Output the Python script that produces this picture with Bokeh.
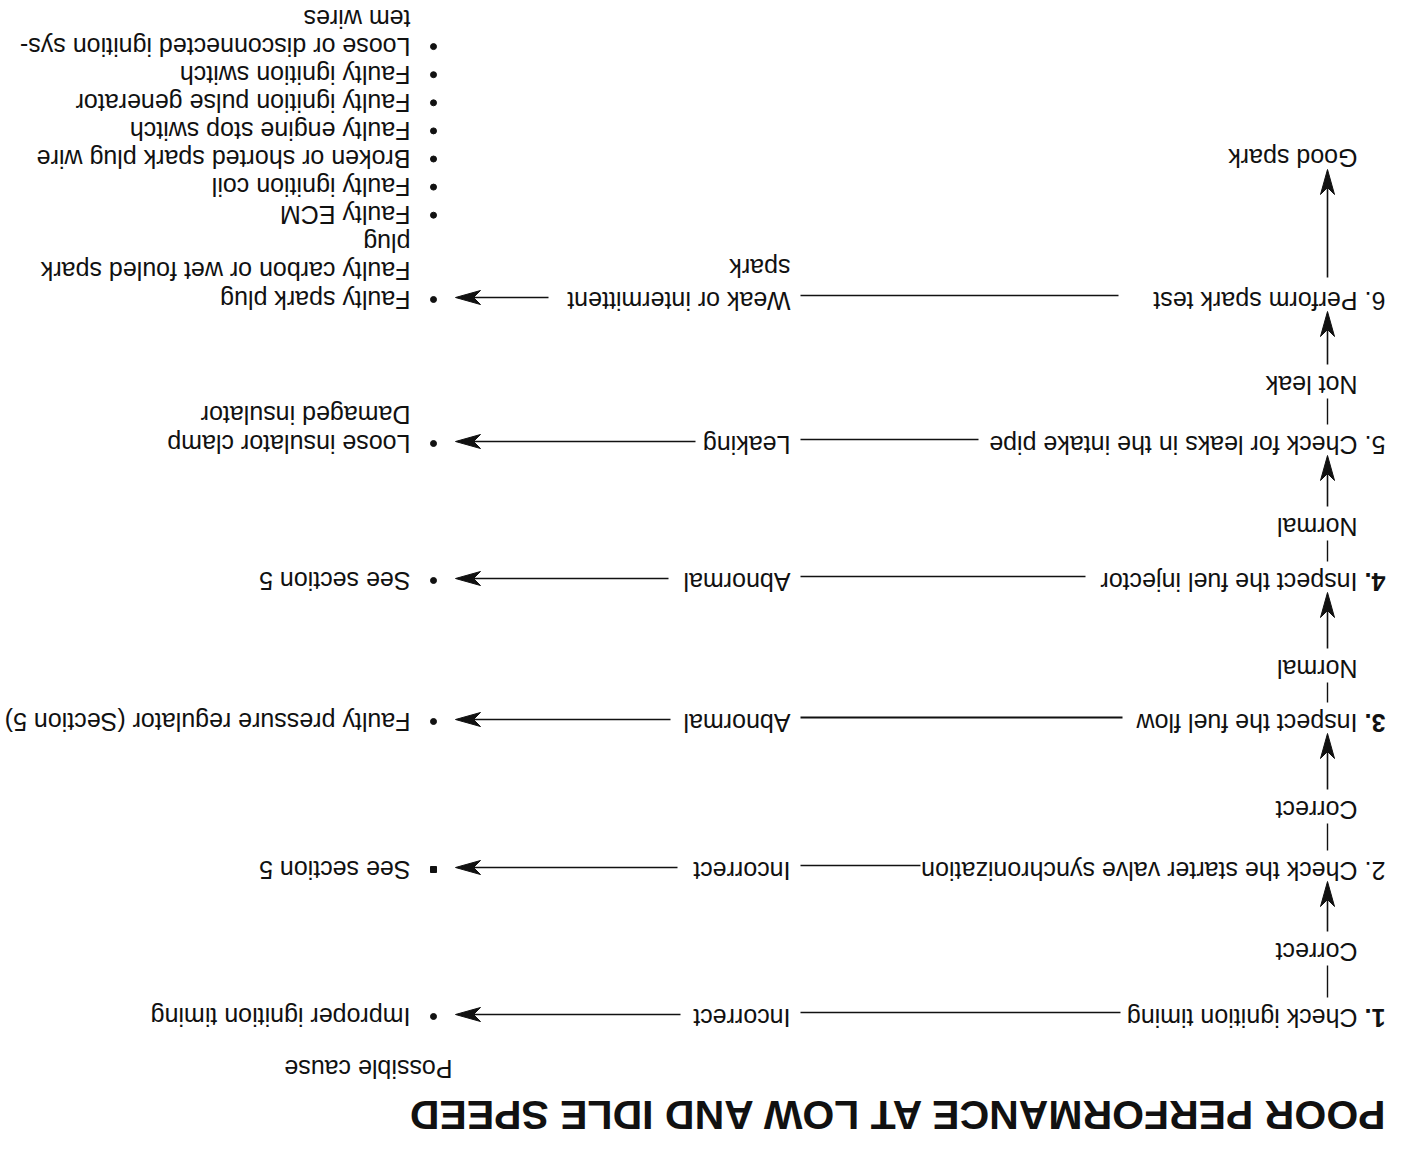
import math
from bokeh.plotting import figure
from bokeh.models import Range1d
from bokeh.core.properties import value
from bokeh.embed import file_html
from bokeh.resources import INLINE

# ---------------- content ----------------
title = "POOR PERFORMANCE AT LOW AND IDLE SPEED"
column_header = "Possible cause"
step_numbers = ["1.", "2.", "3.", "4.", "5.", "6."]
step_number_bold = [True, False, True, True, False, False]
steps = [
    "Check ignition timing",
    "Check the starter valve synchronization",
    "Inspect the fuel flow",
    "Inspect the fuel injector",
    "Check for leaks in the intake pipe",
    "Perform spark test",
]
yes_labels = ["Correct", "Correct", "Normal", "Normal", "Not leak"]
final_label = "Good spark"
results = [
    ["Incorrect"],
    ["Incorrect"],
    ["Abnormal"],
    ["Abnormal"],
    ["Leaking"],
    ["Weak or intermittent", "spark"],
]
causes = [
    ["Improper ignition timing"],
    ["See section 5"],
    ["Faulty pressure regulator (Section 5)"],
    ["See section 5"],
    ["Loose insulator clamp", "Damaged insulator"],
    ["Faulty spark plug", "Faulty carbon or wet fouled spark", "plug",
     "Faulty ECM", "Faulty ignition coil", "Broken or shorted spark plug wire",
     "Faulty engine stop switch", "Faulty ignition pulse generator",
     "Faulty ignition switch", "Loose or disconnected ignition sys-", "tem wires"],
]
cause_bullets = [
    ["circle"],
    ["square"],
    ["circle"],
    ["circle"],
    ["circle", None],
    ["circle", None, None, "circle", "circle", "circle", "circle", "circle",
     "circle", "circle", None],
]

# ---------------- layout (page is shown rotated 180 degrees) ----------------
W, H = 1387, 1138
step_y = [1017, 870, 722, 581, 444, 300]
yes_y = [951, 809, 668, 526, 384]
good_y = 157
step_line_start = [1120, 920, 1122, 1085, 978, 1118]
step_line_width = [1.4, 1.4, 2.2, 1.4, 1.4, 1.4]
arrow_start = [680, 677, 670, 668, 695, 548]
X_NUM, X_STEP, X_VERT = 1385, 1357, 1327
X_RES, X_LINE_END, X_TIP, X_BULLET, X_CAUSE = 790, 800, 455, 433, 410
LINE_GAP = 28.1
HEAD_L, HEAD_HW, HEAD_N = 25, 7, 7
FONT = value("Liberation Sans")
ANG = math.pi
INK = "#111111"

p = figure(width=W, height=H, output_backend="svg", toolbar_location=None,
           x_range=Range1d(0, W), y_range=Range1d(H, 0),
           min_border=0, min_border_left=0, min_border_right=0,
           min_border_top=0, min_border_bottom=0)
p.axis.visible = False
p.grid.visible = False
p.outline_line_color = None
p.background_fill_color = "white"
p.border_fill_color = "white"


def txt(xs, ys, texts, size="25px", style="normal"):
    p.text(x=xs, y=ys, text=texts, angle=ANG, text_align="left",
           text_baseline="middle", text_font=FONT, text_font_size=size,
           text_font_style=style, text_color=INK)


def head_left(tx, ty):
    return ([tx, tx + HEAD_L, tx + HEAD_L - HEAD_N, tx + HEAD_L],
            [ty, ty - HEAD_HW, ty, ty + HEAD_HW])


def head_up(tx, ty):
    return ([tx, tx - HEAD_HW, tx, tx + HEAD_HW],
            [ty, ty + HEAD_L, ty + HEAD_L - HEAD_N, ty + HEAD_L])


# title and header
txt([1385], [1114], [title], size="41px", style="bold")
txt([452], [1068], [column_header])

# step numbers
for num, bold, y in zip(step_numbers, step_number_bold, step_y):
    txt([X_NUM], [y], [num], style="bold" if bold else "normal")
# step texts
txt([X_STEP] * len(steps), step_y, steps)
# yes labels
txt([X_STEP] * len(yes_labels), yes_y, yes_labels)
txt([X_STEP], [good_y], [final_label])

# short vertical lines between step and yes label
p.segment(x0=[X_VERT] * 5, y0=[s - 20 for s in step_y[:5]],
          x1=[X_VERT] * 5, y1=[y + 14 for y in yes_y], line_color=INK, line_width=1.4)

# vertical arrows: yes label -> next step, last step -> final label
v_start = [y - 20 for y in yes_y] + [step_y[5] - 23]
v_tip = [s + 11 for s in step_y[1:]] + [good_y + 12]
p.segment(x0=[X_VERT] * 6, y0=v_start, x1=[X_VERT] * 6,
          y1=[t + HEAD_L - HEAD_N for t in v_tip], line_color=INK, line_width=1.6)
vh = [head_up(X_VERT, t) for t in v_tip]
p.patches(xs=[h[0] for h in vh], ys=[h[1] for h in vh],
          fill_color=INK, line_color=INK, line_width=1)

# horizontal lines: step text -> result label
for i, y in enumerate(step_y):
    p.segment(x0=[step_line_start[i]], y0=[y - 5], x1=[X_LINE_END], y1=[y - 5],
              line_color=INK, line_width=step_line_width[i])

# result labels
for res, y in zip(results, step_y):
    txt([X_RES] * len(res), [y - k * 33 for k in range(len(res))], res)

# horizontal arrows: result -> causes
h_y = [y - 3 for y in step_y]
p.segment(x0=arrow_start, y0=h_y, x1=[X_TIP + HEAD_L - HEAD_N] * 6, y1=h_y,
          line_color=INK, line_width=1.6)
hh = [head_left(X_TIP, y) for y in h_y]
p.patches(xs=[h[0] for h in hh], ys=[h[1] for h in hh],
          fill_color=INK, line_color=INK, line_width=1)

# causes with bullets
for cl, bl, y in zip(causes, cause_bullets, step_y):
    ys = [y - 1 - k * LINE_GAP for k in range(len(cl))]
    txt([X_CAUSE] * len(cl), ys, cl)
    for b, yy in zip(bl, ys):
        if b is not None:
            p.scatter(x=[X_BULLET], y=[yy], marker=b, size=6,
                      fill_color=INK, line_color=INK)

open("out.html", "w").write(file_html(p, INLINE))
